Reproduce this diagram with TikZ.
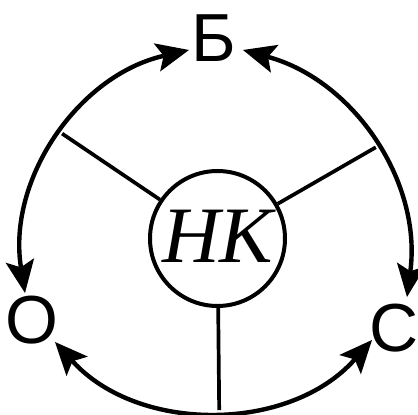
\documentclass[tikz,border=0pt]{standalone}
\usepackage{fontspec}
\setmainfont{Liberation Sans}
\newfontfamily\nkfont{Liberation Serif}
\usetikzlibrary{arrows.meta}
\tikzset{
  tipshape/.style={},
  arcline/.style={line width=4.4pt, arrows={Stealth[length=33pt,width=29pt,inset=7pt,line width=0pt]-Stealth[length=33pt,width=29pt,inset=7pt,line width=0pt]}},
  spoke/.style={line width=3.7pt},
  letter/.style={inner sep=0pt, anchor=base, font=\fontsize{68}{68}\selectfont},
  core/.style={circle, draw, line width=4pt, minimum size=135pt, inner sep=0pt, font=\nkfont\itshape\fontsize{80}{80}\selectfont}
}
\begin{document}
\begin{tikzpicture}[x=1pt,y=1pt]
\useasboundingbox (0,0) rectangle (418,415);
% letters
\node[letter] (b) at (213.5,353) {Б};
\node[letter] (o) at (31.5,71) {О};
\node[letter] (c) at (394,63) {С};
% centre
\node[core] (nk) at (217.5,176.5) {\raisebox{4pt}{НК}};
% arrow end points
\coordinate (bl) at (189,365);
\coordinate (br) at (243,365);
\coordinate (ot) at (25,122);
\coordinate (ct) at (407,118);
\coordinate (ol) at (55,73);
\coordinate (cl) at (372,75);
% arcs
\draw[arcline] (bl) to[bend right=43] coordinate[pos=0.48] (jl) (ot);
\draw[arcline] (br) to[bend left=41] coordinate[pos=0.52] (jr) (ct);
\draw[arcline] (ol) to[bend right=48] coordinate[pos=0.515] (jb) (cl);
% spokes
\draw[spoke] (nk) -- (jl);
\draw[spoke] (nk) -- (jr);
\draw[spoke] (nk) -- (jb);
\end{tikzpicture}
\end{document}
